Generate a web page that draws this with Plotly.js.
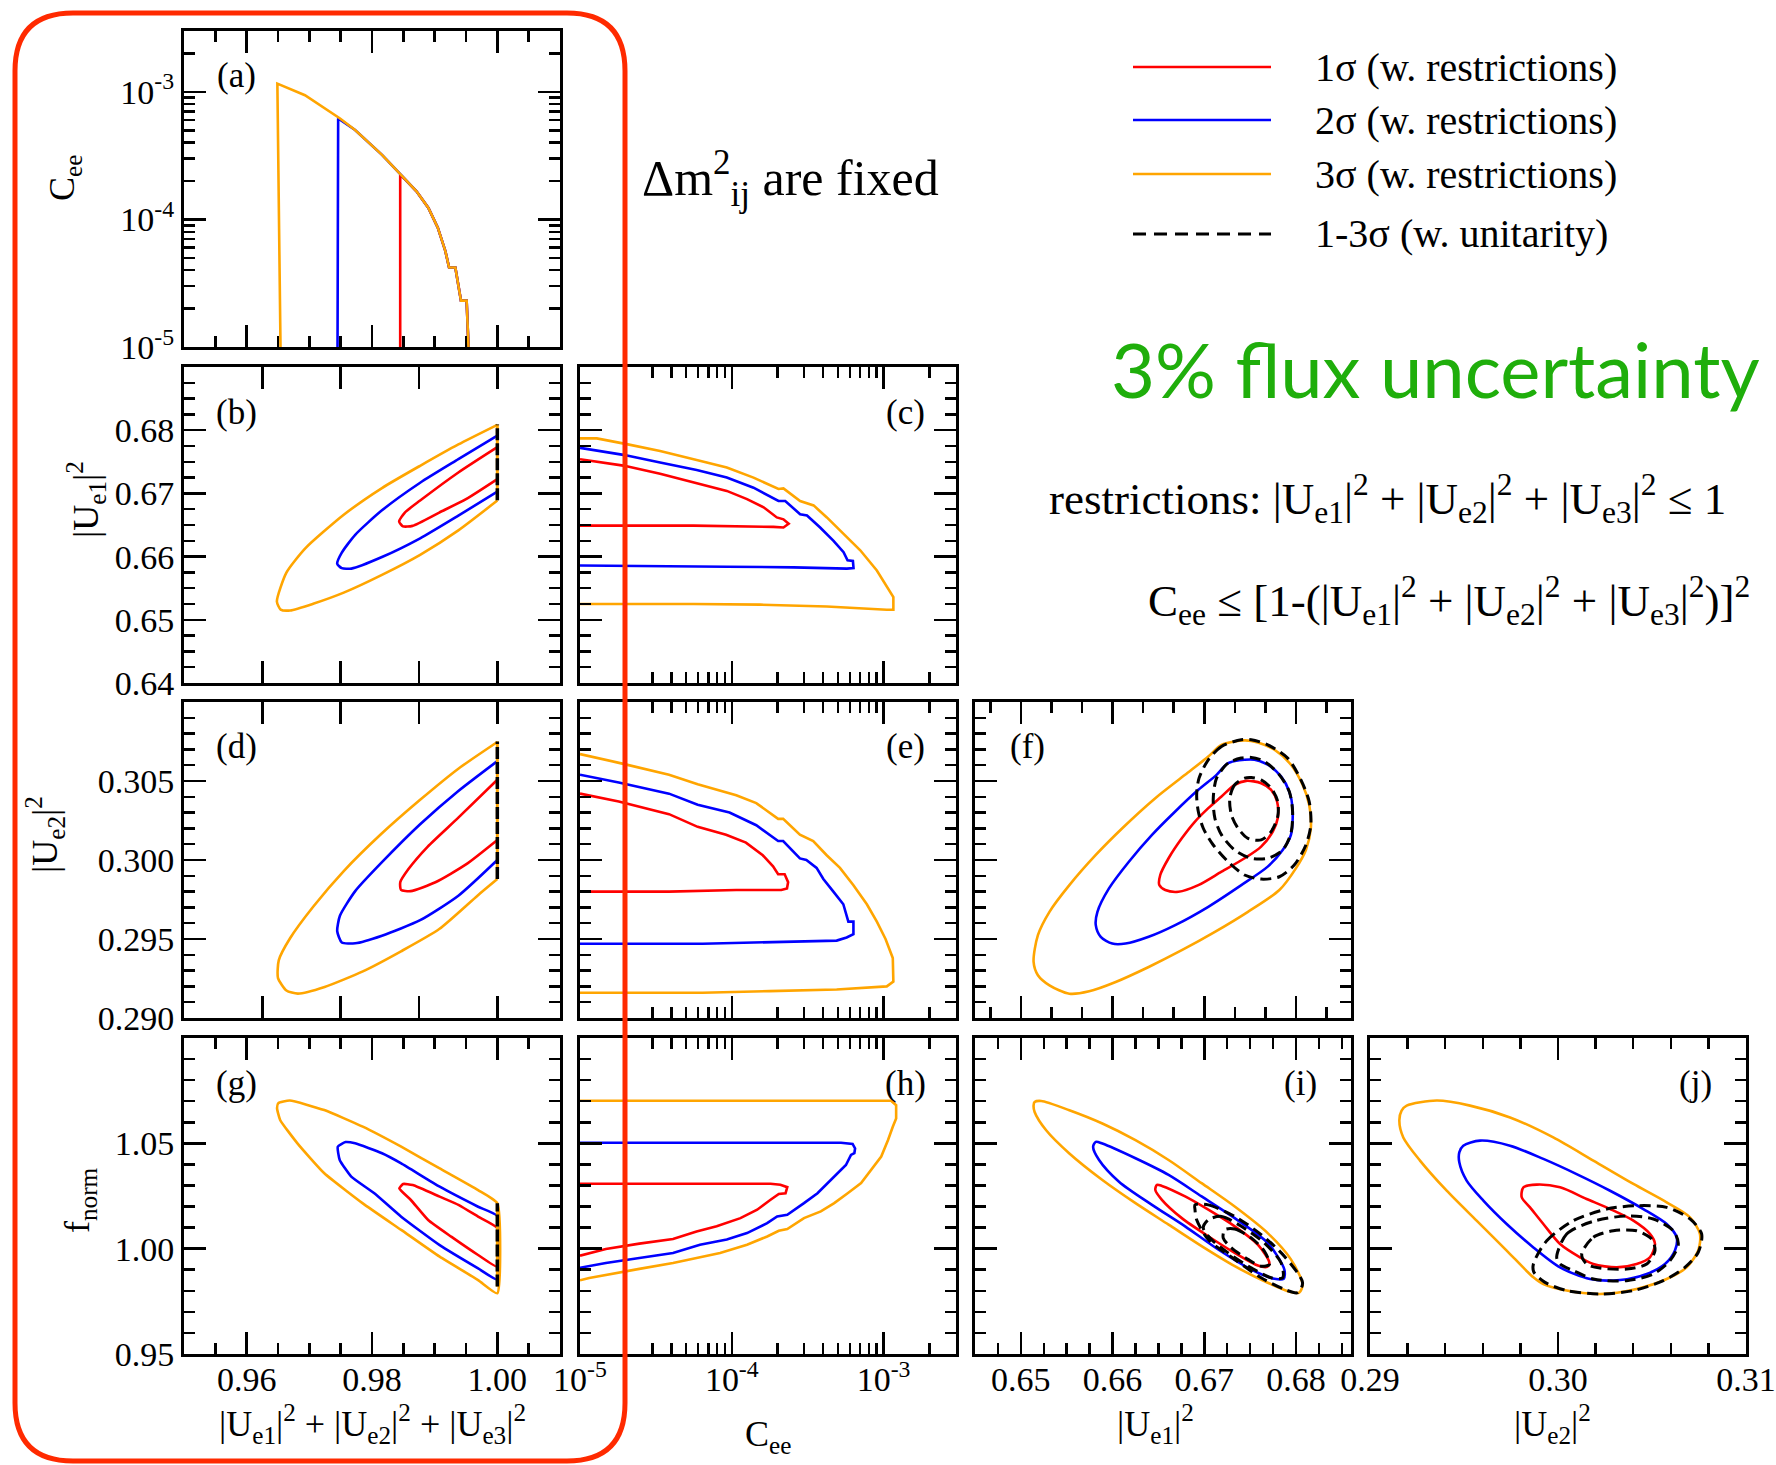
<!DOCTYPE html>
<html><head><meta charset="utf-8">
<script src="https://cdn.plot.ly/plotly-3.0.1.min.js"></script>
<style>html,body{margin:0;padding:0;background:#fff;}#chart{width:1776px;height:1465px;}</style>
</head><body><div id="chart"></div>
<script>
// ---------------- DATA ----------------
// Panel (a): sum |Ue|^2 vs Cee (upper edge of allowed region)
const a_red_x = [0.9845,0.9845,0.9853,0.9871,0.9890,0.9905,0.9917,0.9923,0.9933,0.9939,0.9942,0.9951,0.9954];
const a_red_y = [1e-5,2.24e-4,2.05e-4,1.66e-4,1.23e-4,8.61e-5,5.66e-5,4.2e-5,4.2e-5,2.77e-5,2.31e-5,2.31e-5,1e-5];
const a_blue_x = [0.9745,0.9746,0.9773,0.9798,0.9816,0.9841,0.9853,0.9871,0.9890,0.9905,0.9917,0.9923,0.9933,0.9939,0.9942,0.9951,0.9954];
const a_blue_y = [1e-5,6.19e-4,5.02e-4,3.84e-4,3.21e-4,2.38e-4,2.05e-4,1.66e-4,1.23e-4,8.61e-5,5.66e-5,4.2e-5,4.2e-5,2.77e-5,2.31e-5,2.31e-5,1e-5];
const a_orange_x = [0.9654,0.9649,0.9693,0.9724,0.9749,0.9773,0.9798,0.9816,0.9841,0.9853,0.9871,0.9890,0.9905,0.9917,0.9923,0.9933,0.9939,0.9942,0.9951,0.9954];
const a_orange_y = [1e-5,1.16e-3,9.42e-4,7.41e-4,6.19e-4,5.02e-4,3.84e-4,3.21e-4,2.38e-4,2.05e-4,1.66e-4,1.23e-4,8.61e-5,5.66e-5,4.2e-5,4.2e-5,2.77e-5,2.31e-5,2.31e-5,1e-5];

// Panel (b): sum vs |Ue1|^2 (last point closes along sum = 1)
const b_red_x = [1.0,0.99378,0.98768,0.98524,0.98433,0.98494,0.98646,0.99073,0.995,1.0,1.0];
const b_red_y = [0.67732,0.67331,0.66887,0.66697,0.66556,0.66479,0.66486,0.66697,0.66908,0.67225,0.67732];
const b_blue_x = [1.0,0.99378,0.98768,0.98159,0.97732,0.97518,0.97445,0.97518,0.97671,0.98159,0.98768,0.99378,1.0,1.0];
const b_blue_y = [0.67915,0.67542,0.67169,0.66732,0.66345,0.66063,0.65887,0.65817,0.6581,0.65993,0.66289,0.66648,0.67028,0.67915];
const b_orange_x = [1.0,0.99378,0.98768,0.98159,0.97549,0.96939,0.96634,0.96482,0.96543,0.96695,0.97061,0.97549,0.98159,0.98768,0.99378,1.0,1.0];
const b_orange_y = [0.68085,0.67775,0.67437,0.67085,0.66662,0.66134,0.65746,0.65289,0.65162,0.65148,0.65254,0.6543,0.65711,0.66028,0.66415,0.66887,0.68085];
const b_unit_x = [1.0,1.0];
const b_unit_y = [0.6689,0.6809];

// Panel (c): Cee vs |Ue1|^2
const c_red_x = [1e-5,1.93e-5,3.37e-5,5.87e-5,9.27e-5,1.26e-4,1.62e-4,1.98e-4,2.19e-4,2.37e-4,2.19e-4,1.88e-4,5.59e-5,2.03e-5,1e-5];
const c_red_y = [0.6754,0.6744,0.6731,0.6716,0.6704,0.6691,0.6678,0.6662,0.6659,0.6652,0.6646,0.6647,0.6649,0.6649,0.6649];
const c_blue_x = [1e-5,1.93e-5,3.37e-5,5.87e-5,9.27e-5,1.39e-4,2.03e-4,2.25e-4,2.82e-4,3.13e-4,3.82e-4,4.68e-4,5.45e-4,5.79e-4,6.28e-4,6.34e-4,5.73e-4,2.55e-4,9.27e-5,3.37e-5,1e-5];
const c_blue_y = [0.6772,0.6761,0.6749,0.6737,0.6725,0.6709,0.6688,0.6688,0.6667,0.6665,0.6646,0.6625,0.6607,0.6594,0.6593,0.6582,0.6581,0.6583,0.6584,0.6585,0.6586];
const c_orange_x = [1e-5,1.29e-5,2.03e-5,3.37e-5,5.87e-5,9.27e-5,1.39e-4,2.03e-4,2.19e-4,2.82e-4,3.46e-4,4.23e-4,5.45e-4,7.02e-4,9.03e-4,1.08e-3,1.16e-3,1.16e-3,1.05e-3,4.23e-4,1.54e-4,5.59e-5,2.03e-5,1e-5];
const c_orange_y = [0.6787,0.6787,0.6778,0.6767,0.6753,0.6741,0.6725,0.6707,0.6708,0.6688,0.6681,0.6662,0.6636,0.6610,0.6578,0.6549,0.6536,0.6516,0.6516,0.6521,0.6524,0.6525,0.6525,0.6525];

// Panel (d): sum vs |Ue2|^2
const d_red_x = [1.0,0.99378,0.9889,0.98585,0.98451,0.98463,0.98616,0.99012,0.995,1.0,1.0];
const d_red_y = [0.30508,0.30268,0.30085,0.29944,0.29859,0.29811,0.29803,0.29859,0.29972,0.30127,0.30508];
const d_blue_x = [1.0,0.99378,0.98768,0.98159,0.97732,0.97488,0.97445,0.97518,0.97732,0.98159,0.98768,0.99378,1.0,1.0];
const d_blue_y = [0.30626,0.30437,0.30226,0.29986,0.29803,0.29647,0.29549,0.29478,0.29473,0.29521,0.29619,0.29774,0.3,0.30626];
const d_orange_x = [1.0,0.99378,0.98768,0.98159,0.97549,0.97061,0.96695,0.96512,0.965,0.96634,0.96817,0.97244,0.97854,0.98463,0.99073,0.99683,1.0,1.0];
const d_orange_y = [0.30747,0.30578,0.30381,0.30169,0.2993,0.29704,0.29506,0.29365,0.29253,0.29174,0.29154,0.29196,0.29295,0.29422,0.29563,0.29774,0.29879,0.30747];
const d_unit_x = [1.0,1.0];
const d_unit_y = [0.2988,0.3075];

// Panel (e): Cee vs |Ue2|^2
const e_red_x = [1e-5,1.80e-5,3.86e-5,5.96e-5,9.17e-5,1.24e-4,1.60e-4,1.87e-4,2.02e-4,2.23e-4,2.35e-4,2.31e-4,2.12e-4,1.07e-4,3.86e-5,1e-5];
const e_red_y = [0.3042,0.3037,0.3029,0.3021,0.3016,0.3011,0.3003,0.2996,0.2991,0.2991,0.2986,0.2982,0.2981,0.2981,0.2980,0.2980];
const e_blue_x = [1e-5,1.80e-5,3.86e-5,5.96e-5,9.66e-5,1.45e-4,2.02e-4,2.18e-4,2.81e-4,3.10e-4,3.62e-4,4.01e-4,4.67e-4,5.43e-4,5.86e-4,6.33e-4,6.33e-4,5.71e-4,4.91e-4,1.77e-4,6.43e-5,2.32e-5,1e-5];
const e_blue_y = [0.3054,0.3049,0.3042,0.3035,0.3030,0.3022,0.3012,0.3012,0.3001,0.3000,0.2995,0.2988,0.2980,0.2972,0.2961,0.2961,0.2953,0.2951,0.2949,0.2948,0.2947,0.2947,0.2947];
const e_orange_x = [1e-5,1.40e-5,1.90e-5,3.86e-5,5.96e-5,1.07e-4,1.45e-4,2.02e-4,2.18e-4,2.81e-4,3.44e-4,4.22e-4,5.16e-4,6.33e-4,7.76e-4,9.03e-4,1.03e-3,1.15e-3,1.16e-3,1.05e-3,4.91e-4,1.77e-4,6.43e-5,2.32e-5,1e-5];
const e_orange_y = [0.3067,0.3064,0.3061,0.3054,0.3048,0.3041,0.3036,0.3026,0.3026,0.3016,0.3012,0.3003,0.2995,0.2984,0.2972,0.2961,0.2950,0.2938,0.2923,0.2920,0.2918,0.2917,0.2916,0.2916,0.2916];

// Panel (f): |Ue1|^2 vs |Ue2|^2
const f_red_x = [0.67458,0.67332,0.67188,0.67044,0.66899,0.66755,0.66611,0.6652,0.6651,0.66575,0.66719,0.66935,0.67188,0.6744,0.6762,0.67747,0.67801,0.67794,0.67729,0.6762];
const f_red_y = [0.30501,0.30476,0.30402,0.30328,0.30243,0.30137,0.30011,0.29905,0.29841,0.2981,0.29799,0.29841,0.29926,0.30011,0.30085,0.3018,0.30264,0.3037,0.30444,0.30486];
const f_blue_x = [0.6744,0.6726,0.67134,0.66935,0.66683,0.6643,0.66178,0.65961,0.65835,0.65817,0.65871,0.65997,0.66142,0.66394,0.66683,0.67044,0.67404,0.67692,0.67855,0.67945,0.67963,0.67927,0.67837,0.67692,0.67548];
const f_blue_y = [0.30634,0.30613,0.30539,0.30444,0.30307,0.30159,0.29989,0.2982,0.29672,0.29588,0.29514,0.29471,0.29471,0.29514,0.29588,0.29704,0.29841,0.29958,0.30063,0.30159,0.30328,0.30433,0.30529,0.30603,0.30634];
const f_orange_x = [0.6744,0.67188,0.67044,0.66791,0.66466,0.66106,0.65817,0.65529,0.65312,0.65186,0.65139,0.65186,0.65312,0.65529,0.65745,0.66034,0.66394,0.66755,0.67116,0.67476,0.67819,0.67999,0.68108,0.68162,0.68144,0.68072,0.67945,0.67765,0.67584];
const f_orange_y = [0.30757,0.30729,0.30655,0.30539,0.30391,0.30201,0.30032,0.29841,0.29672,0.29524,0.29355,0.29271,0.29207,0.29154,0.29169,0.29228,0.29323,0.29429,0.29545,0.29672,0.2981,0.29947,0.30063,0.30201,0.30349,0.30476,0.30603,0.30698,0.30744];
const f_u3_x = [0.67404,0.67188,0.67044,0.66943,0.66917,0.66935,0.66989,0.67098,0.6726,0.6744,0.6762,0.67819,0.67981,0.68108,0.68162,0.68144,0.68054,0.67909,0.67692,0.67512];
const f_u3_y = [0.30761,0.30719,0.30634,0.30518,0.30412,0.30307,0.30201,0.30095,0.29989,0.29905,0.29879,0.29894,0.29968,0.30095,0.30222,0.3037,0.30507,0.30645,0.30729,0.30761];
const f_u2_x = [0.67404,0.6726,0.67134,0.67098,0.67116,0.67188,0.67332,0.67512,0.67692,0.67855,0.67945,0.67963,0.67927,0.67819,0.67657,0.67512];
const f_u2_y = [0.30645,0.30613,0.30518,0.30391,0.30264,0.30159,0.30063,0.30011,0.30011,0.30063,0.30169,0.30307,0.30433,0.30539,0.30624,0.30649];
const f_u1_x = [0.6744,0.67332,0.67278,0.67296,0.67368,0.67476,0.6762,0.67729,0.67801,0.67801,0.67729,0.6762,0.67512];
const f_u1_y = [0.30518,0.30476,0.30391,0.30285,0.30201,0.30137,0.30127,0.3018,0.30275,0.3037,0.30455,0.30507,0.30522];

// Panel (g): sum vs f_norm (closed: first point repeated at end)
const g_red_x = [0.98436,0.98497,0.9865,0.9908,0.99387,0.99693,1.0,1.0,0.99693,0.99264,0.98896,0.9862,0.98436];
const g_red_y = [1.0286,1.0307,1.0302,1.0247,1.0207,1.0152,1.0097,0.99146,0.997,1.0057,1.0136,1.0231,1.0286];
const g_blue_x = [0.97454,0.97577,0.9773,0.9816,0.98466,0.9908,0.99693,1.0,1.0,0.99693,0.9908,0.98466,0.98037,0.97669,0.97485,0.97454];
const g_blue_y = [1.0484,1.0506,1.05,1.0453,1.0405,1.0294,1.0199,1.0155,0.98544,0.99066,1.0017,1.0152,1.0263,1.0342,1.0421,1.0484];
const g_orange_x = [0.96503,0.96687,0.97239,0.97853,0.98466,0.9908,0.99693,1.0,1.0,0.99693,0.9908,0.98466,0.97853,0.97239,0.9681,0.96534,0.96485,0.96503];
const g_orange_y = [1.069,1.0703,1.0658,1.0579,1.0484,1.0381,1.0278,1.0215,0.9788,0.9851,0.9962,1.0089,1.0215,1.0358,1.05,1.0611,1.0666,1.069];
const g_unit_x = [1.0,1.0];
const g_unit_y = [0.982,1.0215];

// Panel (h): Cee vs f_norm
const h_red_x = [1e-5,4.10e-5,1.80e-4,2.09e-4,2.32e-4,2.26e-4,2.04e-4,1.80e-4,1.47e-4,1.14e-4,7.95e-5,5.86e-5,4.10e-5,2.46e-5,1.48e-5,1e-5];
const h_red_y = [1.0308,1.0308,1.0308,1.0303,1.0292,1.0263,1.0260,1.0232,1.0185,1.0145,1.0106,1.0082,1.0046,1.0024,0.9998,0.9967];
const h_blue_x = [1e-5,6.83e-5,5.24e-4,6.25e-4,6.49e-4,6.42e-4,6.10e-4,5.65e-4,4.98e-4,4.27e-4,3.67e-4,2.99e-4,2.32e-4,1.99e-4,1.71e-4,1.26e-4,9.27e-5,6.17e-5,4.10e-5,2.46e-5,1.48e-5,1e-5];
const h_blue_y = [1.0503,1.0503,1.0503,1.0497,1.0476,1.0453,1.0445,1.0397,1.0358,1.0311,1.0263,1.0216,1.0161,1.0153,1.0121,1.0074,1.0043,1.0019,0.9979,0.9956,0.9932,0.9909];
const h_orange_x = [1e-5,4.10e-5,1.89e-4,8.71e-4,1.12e-3,1.21e-3,1.21e-3,1.15e-3,1.07e-3,9.65e-4,8.28e-4,7.11e-4,5.80e-4,4.73e-4,3.86e-4,2.99e-4,2.32e-4,2.04e-4,1.71e-4,1.26e-4,8.37e-5,6.17e-5,4.10e-5,2.46e-5,1.48e-5,1.15e-5,1e-5];
const h_orange_y = [1.0702,1.0702,1.0702,1.0705,1.0702,1.0681,1.0618,1.0579,1.0516,1.0437,1.0374,1.0311,1.0263,1.0216,1.0177,1.0145,1.0093,1.0085,1.0058,1.0019,0.9979,0.9959,0.9932,0.9904,0.9877,0.9861,0.9850];

// Panel (i): |Ue1|^2 vs f_norm
const i_red_x = [0.66484,0.66538,0.66791,0.67044,0.67332,0.67584,0.6771,0.67685,0.67584,0.67332,0.67044,0.66755,0.66538,0.66466];
const i_red_y = [1.0303,1.0298,1.0248,1.0185,1.0106,1.0019,0.9933,0.9914,0.9920,0.9980,1.0059,1.0145,1.0232,1.0279];
const i_blue_x = [0.65817,0.65889,0.6625,0.66611,0.66971,0.67332,0.67692,0.67873,0.67866,0.67765,0.67512,0.67152,0.66791,0.6643,0.6607,0.65853,0.65788];
const i_blue_y = [1.0507,1.0499,1.0429,1.035,1.0248,1.0145,1.0027,0.9901,0.9857,0.9857,0.9901,0.9996,1.0106,1.0208,1.0318,1.0421,1.0484];
const i_orange_x = [0.6515,0.65222,0.65529,0.65889,0.6625,0.66611,0.66971,0.67332,0.67692,0.67945,0.68072,0.68035,0.67945,0.67692,0.67332,0.66971,0.66611,0.6625,0.65889,0.65529,0.65276,0.6515,0.65139];
const i_orange_y = [1.0696,1.0701,1.0657,1.0594,1.0515,1.0421,1.0311,1.02,1.0074,0.9949,0.983,0.9791,0.9794,0.9838,0.9917,1.0012,1.0114,1.0216,1.0326,1.0452,1.0562,1.0649,1.068];
const i_u3_x = [0.66899,0.67044,0.67332,0.6762,0.67873,0.68072,0.68017,0.67873,0.6762,0.67332,0.67044,0.66917,0.66899];
const i_u3_y = [1.0208,1.0208,1.0153,1.0067,0.9964,0.9838,0.9791,0.9807,0.9862,0.9949,1.0043,1.0137,1.0185];
const i_u2_x = [0.67044,0.67188,0.67404,0.67656,0.67837,0.67855,0.67729,0.67512,0.6726,0.6708,0.66989];
const i_u2_y = [1.0137,1.0153,1.0106,1.0027,0.9933,0.9862,0.9862,0.9909,0.998,1.0043,1.0098];
const i_u1_x = [0.67224,0.67332,0.67512,0.67656,0.6771,0.6762,0.67476,0.67296,0.67206];
const i_u1_y = [1.009,1.0093,1.0051,0.9988,0.9925,0.9917,0.9949,1.0004,1.0051];

// Panel (j): |Ue2|^2 vs f_norm
const j_red_x = [0.29816,0.29887,0.30011,0.30152,0.30277,0.30401,0.30489,0.30516,0.30489,0.30418,0.30312,0.30188,0.30117,0.30011,0.29922,0.29851,0.29807];
const j_red_y = [1.0291,1.0304,1.0291,1.0236,1.0188,1.0133,1.007,1.0022,0.9959,0.9927,0.9911,0.9927,0.9959,1.0022,1.0117,1.0196,1.0244];
const j_blue_x = [0.29496,0.29585,0.29745,0.29922,0.30099,0.30277,0.30454,0.30578,0.30631,0.30622,0.30569,0.30472,0.3033,0.3017,0.30011,0.29869,0.29727,0.29603,0.29514,0.29475,0.29475];
const j_blue_y = [1.0489,1.0513,1.0489,1.0426,1.0354,1.0275,1.0188,1.0117,1.0054,0.9991,0.9927,0.988,0.9851,0.9856,0.9911,1.0006,1.0117,1.0228,1.0323,1.041,1.0457];
const j_orange_x = [0.29195,0.29355,0.29532,0.29745,0.29975,0.30188,0.30401,0.30578,0.30702,0.30755,0.30746,0.30684,0.30578,0.30418,0.30223,0.30046,0.29922,0.29869,0.29727,0.29567,0.29408,0.29266,0.29177,0.29156,0.29168];
const j_orange_y = [1.0679,1.0703,1.0679,1.0623,1.0528,1.0418,1.0307,1.022,1.0149,1.007,0.9991,0.9911,0.9856,0.9809,0.9785,0.9801,0.9832,0.9864,0.9991,1.0133,1.0275,1.0418,1.0528,1.0608,1.0655];
const j_u3_x = [0.29869,0.2994,0.30082,0.30259,0.30418,0.30578,0.30702,0.30764,0.30746,0.30675,0.3056,0.30401,0.30223,0.30046,0.29931,0.29872];
const j_u3_y = [0.9927,1.0038,1.0133,1.0188,1.0204,1.0196,1.0141,1.007,0.9983,0.9911,0.9848,0.9801,0.9785,0.9801,0.984,0.9888];
const j_u2_x = [0.29993,0.30046,0.30188,0.30365,0.30507,0.30613,0.3064,0.30596,0.30507,0.30365,0.30188,0.30082,0.30011];
const j_u2_y = [0.9959,1.007,1.013,1.0155,1.0141,1.0085,1.0022,0.9943,0.988,0.9848,0.9856,0.9896,0.9927];
const j_u1_x = [0.30126,0.30188,0.30294,0.30418,0.30498,0.30516,0.30472,0.30365,0.30223,0.30152];
const j_u1_y = [0.9975,1.0054,1.0085,1.0085,1.0046,0.9991,0.9927,0.9903,0.9908,0.9927];

// Tick labels / legend texts
const ceeTicks = [1e-5,1e-4,1e-3];
const ceeTickText = ['10<sup>-5</sup>','10<sup>-4</sup>','10<sup>-3</sup>'];
const ue1Ticks = [0.64,0.65,0.66,0.67,0.68];
const ue1TickText = ['0.64','0.65','0.66','0.67','0.68'];
const ue2Ticks = [0.290,0.295,0.300,0.305];
const ue2TickText = ['0.290','0.295','0.300','0.305'];
const fnTicks = [0.95,1.00,1.05];
const fnTickText = ['0.95','1.00','1.05'];
const legendNames = ['1σ (w. restrictions)','2σ (w. restrictions)','3σ (w. restrictions)','1-3σ (w. unitarity)'];

// ---------------- LAYOUT ----------------
const W = 1776, H = 1465;
const RED = '#ff0000', BLUE = '#0000ff', ORANGE = '#ffa500', BLACK = '#000000';
const SERIF = 'Liberation Serif, Times New Roman, serif';
const cols = [[184,560],[580,956],[975,1351],[1370,1746]];
const rows = [[31,347],[367,683],[702,1018],[1038,1354]];
const px = v => v / W;
const py = v => 1 - v / H;

const ceeMinor = [];
for (let d = -5; d <= -3; d++) for (let k = 2; k <= 9; k++) { const v = k * Math.pow(10, d); if (v < 0.003) ceeMinor.push(v); }

const base = {
  showline: true, linewidth: 3, linecolor: BLACK, mirror: 'ticks',
  ticks: 'inside', ticklen: 22, tickwidth: 2.5, tickcolor: BLACK,
  showgrid: false, zeroline: false, fixedrange: true,
  tickfont: {family: SERIF, size: 34, color: BLACK}
};
const minorBase = {ticks: 'inside', ticklen: 11, tickwidth: 2.5, tickcolor: BLACK, showgrid: false};

function xSpec(kind, labels) {
  let s;
  if (kind === 'sumA') s = {range: [0.95, 1.01], tickmode: 'linear', tick0: 0.96, dtick: 0.02, tickformat: '.2f', minor: Object.assign({dtick: 0.005}, minorBase)};
  else if (kind === 'sumB') s = {range: [0.95, 1.01], tickmode: 'linear', tick0: 0.95, dtick: 0.0125};
  else if (kind === 'cee') s = {type: 'log', range: [-5, Math.log10(0.003)], tickmode: 'array', tickvals: ceeTicks, ticktext: ceeTickText, minor: Object.assign({tickmode: 'array', tickvals: ceeMinor}, minorBase)};
  else if (kind === 'ue1F') s = {range: [0.645, 0.686], tickmode: 'linear', tick0: 0.65, dtick: 0.01, minor: Object.assign({dtick: 0.01/3}, minorBase)};
  else if (kind === 'ue1I') s = {range: [0.645, 0.686], tickmode: 'linear', tick0: 0.65, dtick: 0.01, tickformat: '.2f', minor: Object.assign({dtick: 0.0025}, minorBase)};
  else if (kind === 'ue2') s = {range: [0.29, 0.31], tickmode: 'array', tickvals: [0.29, 0.30, 0.31], ticktext: ['0.29','0.30','0.31'], minor: Object.assign({tick0: 0.29, dtick: 0.002}, minorBase)};
  return Object.assign({}, base, s, {showticklabels: !!labels, ticklabelstandoff: -7});
}
function ySpec(kind, labels) {
  let s;
  if (kind === 'cee') s = {type: 'log', range: [-5, Math.log10(0.003)], tickmode: 'array', tickvals: ceeTicks, ticktext: ceeTickText, minor: Object.assign({tickmode: 'array', tickvals: ceeMinor}, minorBase)};
  else if (kind === 'ue1') s = {range: [0.64, 0.69], tickmode: 'array', tickvals: ue1Ticks, ticktext: ue1TickText, minor: Object.assign({tick0: 0.64, dtick: 0.0025}, minorBase)};
  else if (kind === 'ue2') s = {range: [0.29, 0.31], tickmode: 'array', tickvals: ue2Ticks, ticktext: ue2TickText, minor: Object.assign({tick0: 0.29, dtick: 0.001}, minorBase)};
  else if (kind === 'fn') s = {range: [0.95, 1.10], tickmode: 'array', tickvals: fnTicks, ticktext: fnTickText, minor: Object.assign({tick0: 0.95, dtick: 0.01}, minorBase)};
  return Object.assign({}, base, s, {showticklabels: !!labels});
}

const panels = [
  {n:1, c:0, r:0, xk:'sumA', yk:'cee', xl:false, yl:true,  lab:'(a)', side:'l'},
  {n:2, c:0, r:1, xk:'sumB', yk:'ue1', xl:false, yl:true,  lab:'(b)', side:'l'},
  {n:3, c:1, r:1, xk:'cee',  yk:'ue1', xl:false, yl:false, lab:'(c)', side:'r'},
  {n:4, c:0, r:2, xk:'sumB', yk:'ue2', xl:false, yl:true,  lab:'(d)', side:'l'},
  {n:5, c:1, r:2, xk:'cee',  yk:'ue2', xl:false, yl:false, lab:'(e)', side:'r'},
  {n:6, c:2, r:2, xk:'ue1F', yk:'ue2', xl:false, yl:false, lab:'(f)', side:'l'},
  {n:7, c:0, r:3, xk:'sumA', yk:'fn',  xl:true,  yl:true,  lab:'(g)', side:'l'},
  {n:8, c:1, r:3, xk:'cee',  yk:'fn',  xl:true,  yl:false, lab:'(h)', side:'r'},
  {n:9, c:2, r:3, xk:'ue1I', yk:'fn',  xl:true,  yl:false, lab:'(i)', side:'r'},
  {n:10,c:3, r:3, xk:'ue2',  yk:'fn',  xl:true,  yl:false, lab:'(j)', side:'r'}
];

const layout = {
  width: W, height: H, margin: {l:0, r:0, t:0, b:0},
  paper_bgcolor: '#ffffff', plot_bgcolor: '#ffffff', showlegend: false,
  font: {family: SERIF, color: BLACK},
  annotations: [], shapes: []
};

panels.forEach(p => {
  const sfx = p.n === 1 ? '' : String(p.n);
  const xa = xSpec(p.xk, p.xl), ya = ySpec(p.yk, p.yl);
  xa.domain = [px(cols[p.c][0]), px(cols[p.c][1])];
  ya.domain = [py(rows[p.r][1]), py(rows[p.r][0])];
  xa.anchor = 'y' + sfx; ya.anchor = 'x' + sfx;
  layout['xaxis' + sfx] = xa; layout['yaxis' + sfx] = ya;
  const lx = p.side === 'l' ? cols[p.c][0] + 52 : cols[p.c][1] - 51;
  const ly = rows[p.r][0] + 45;
  layout.annotations.push({text: p.lab, x: px(lx), y: py(ly), xref: 'paper', yref: 'paper', xanchor: 'center', yanchor: 'middle', showarrow: false, font: {family: SERIF, size: 35, color: BLACK}});
});

// ---------------- TRACES ----------------
const traces = [];
function addLine(n, x, y, color, opts) {
  const sfx = n === 1 ? '' : String(n);
  opts = opts || {};
  let xx = x, yy = y;
  if (opts.close) { xx = x.concat([x[0]]); yy = y.concat([y[0]]); }
  if (opts.open) { xx = x.slice(0, -1); yy = y.slice(0, -1); }
  traces.push({type: 'scatter', mode: 'lines', x: xx, y: yy, xaxis: 'x' + sfx, yaxis: 'y' + sfx,
    line: {color: color, width: opts.width || 2.6, dash: opts.dash || 'solid', shape: opts.spline ? 'spline' : 'linear', smoothing: opts.spline ? (opts.sm || 0.8) : 0},
    hoverinfo: 'skip', showlegend: false});
}
const UDASH = '11px,6px';
const SP = {open: true, spline: true, sm: 0.6};
const SG = {spline: true, sm: 0.45};
const CL = {close: true, spline: true};
const DL = {close: true, spline: true, dash: UDASH, width: 3};
// (a)
addLine(1, a_red_x, a_red_y, RED); addLine(1, a_blue_x, a_blue_y, BLUE); addLine(1, a_orange_x, a_orange_y, ORANGE);
// (b)
addLine(2, b_red_x, b_red_y, RED, SP); addLine(2, b_blue_x, b_blue_y, BLUE, SP); addLine(2, b_orange_x, b_orange_y, ORANGE, SP);
addLine(2, b_unit_x, b_unit_y, ORANGE, {width: 3});
addLine(2, b_unit_x, b_unit_y, BLACK, {dash: '12px,3px', width: 3.5});
// (c)
addLine(3, c_red_x, c_red_y, RED); addLine(3, c_blue_x, c_blue_y, BLUE); addLine(3, c_orange_x, c_orange_y, ORANGE);
// (d)
addLine(4, d_red_x, d_red_y, RED, SP); addLine(4, d_blue_x, d_blue_y, BLUE, SP); addLine(4, d_orange_x, d_orange_y, ORANGE, SP);
addLine(4, d_unit_x, d_unit_y, ORANGE, {width: 3});
addLine(4, d_unit_x, d_unit_y, BLACK, {dash: '12px,3px', width: 3.5});
// (e)
addLine(5, e_red_x, e_red_y, RED); addLine(5, e_blue_x, e_blue_y, BLUE); addLine(5, e_orange_x, e_orange_y, ORANGE);
// (f)
addLine(6, f_red_x, f_red_y, RED, CL); addLine(6, f_blue_x, f_blue_y, BLUE, CL); addLine(6, f_orange_x, f_orange_y, ORANGE, CL);
addLine(6, f_u1_x, f_u1_y, BLACK, DL); addLine(6, f_u2_x, f_u2_y, BLACK, DL); addLine(6, f_u3_x, f_u3_y, BLACK, DL);
// (g)
addLine(7, g_red_x, g_red_y, RED, SG); addLine(7, g_blue_x, g_blue_y, BLUE, SG); addLine(7, g_orange_x, g_orange_y, ORANGE, SG);
addLine(7, g_unit_x, g_unit_y, ORANGE, {width: 3});
addLine(7, g_unit_x, g_unit_y, BLACK, {dash: '12px,3px', width: 3.5});
// (h)
addLine(8, h_red_x, h_red_y, RED); addLine(8, h_blue_x, h_blue_y, BLUE); addLine(8, h_orange_x, h_orange_y, ORANGE);
// (i)
addLine(9, i_red_x, i_red_y, RED, CL); addLine(9, i_blue_x, i_blue_y, BLUE, CL); addLine(9, i_orange_x, i_orange_y, ORANGE, CL);
addLine(9, i_u1_x, i_u1_y, BLACK, DL); addLine(9, i_u2_x, i_u2_y, BLACK, DL); addLine(9, i_u3_x, i_u3_y, BLACK, DL);
// (j)
addLine(10, j_red_x, j_red_y, RED, CL); addLine(10, j_blue_x, j_blue_y, BLUE, CL); addLine(10, j_orange_x, j_orange_y, ORANGE, CL);
addLine(10, j_u1_x, j_u1_y, BLACK, DL); addLine(10, j_u2_x, j_u2_y, BLACK, DL); addLine(10, j_u3_x, j_u3_y, BLACK, DL);

// ---------------- TEXT ----------------
function ann(text, x, y, size, o) {
  o = o || {};
  layout.annotations.push(Object.assign({text: text, x: px(x), y: py(y), xref: 'paper', yref: 'paper',
    xanchor: 'center', yanchor: 'middle', showarrow: false,
    font: {family: SERIF, size: size, color: BLACK}}, o));
}
const U = k => '|U<sub>e' + k + '</sub>|<sup>2</sup>';
// axis titles
ann('C<sub>ee</sub>', 64, 178, 36, {textangle: -90});
ann(U(1), 86, 500, 36, {textangle: -90});
ann(U(2), 45, 835, 36, {textangle: -90});
ann('f<sub>norm</sub>', 79, 1200, 36, {textangle: -90});
ann(U(1) + ' + ' + U(2) + ' + ' + U(3), 372, 1424, 36);
ann('C<sub>ee</sub>', 768, 1436, 36);
ann(U(1), 1155, 1424, 36);
ann(U(2), 1552, 1424, 36);
// other text
ann('Δm<sup>2</sup><sub>ij</sub> are fixed', 640, 179, 50, {xanchor: 'left'});
ann('3% flux uncertainty', 1762, 368, 76, {xanchor: 'right', font: {family: 'Lato, sans-serif', size: 76, color: '#1fae0b'}});
ann('restrictions: ' + U(1) + ' + ' + U(2) + ' + ' + U(3) + ' ≤ 1', 1728, 498, 45, {xanchor: 'right'});
ann('C<sub>ee</sub> ≤ [1-(' + U(1) + ' + ' + U(2) + ' + |U<sub>e3</sub>|<sup>2</sup>)]<sup>2</sup>', 1752, 600, 45, {xanchor: 'right'});
// legend
const legY = [67, 120, 174, 234];
const legC = [RED, BLUE, ORANGE, BLACK];
legendNames.forEach((nm, k) => {
  layout.shapes.push({type: 'line', xref: 'paper', yref: 'paper', x0: px(1133), x1: px(1271), y0: py(legY[k]), y1: py(legY[k]),
    line: {color: legC[k], width: k === 3 ? 3 : 2.6, dash: k === 3 ? '13px,8px' : 'solid'}});
  ann(nm, 1313, legY[k], 40, {xanchor: 'left'});
});
// red rounded frame around first column
(function () {
  const l = 15, r = 625, t = 13, b = 1461, rad = 58;
  const P = (x, y) => px(x) + ',' + py(y);
  const path = 'M ' + P(l + rad, t) + ' L ' + P(r - rad, t) + ' Q ' + P(r, t) + ' ' + P(r, t + rad) +
    ' L ' + P(r, b - rad) + ' Q ' + P(r, b) + ' ' + P(r - rad, b) + ' L ' + P(l + rad, b) +
    ' Q ' + P(l, b) + ' ' + P(l, b - rad) + ' L ' + P(l, t + rad) + ' Q ' + P(l, t) + ' ' + P(l + rad, t) + ' Z';
  layout.shapes.push({type: 'path', xref: 'paper', yref: 'paper', path: path, line: {color: '#ff2a00', width: 5}, fillcolor: 'rgba(0,0,0,0)', layer: 'above'});
})();

Plotly.newPlot('chart', traces, layout, {displayModeBar: false, staticPlot: true});
</script></body></html>
